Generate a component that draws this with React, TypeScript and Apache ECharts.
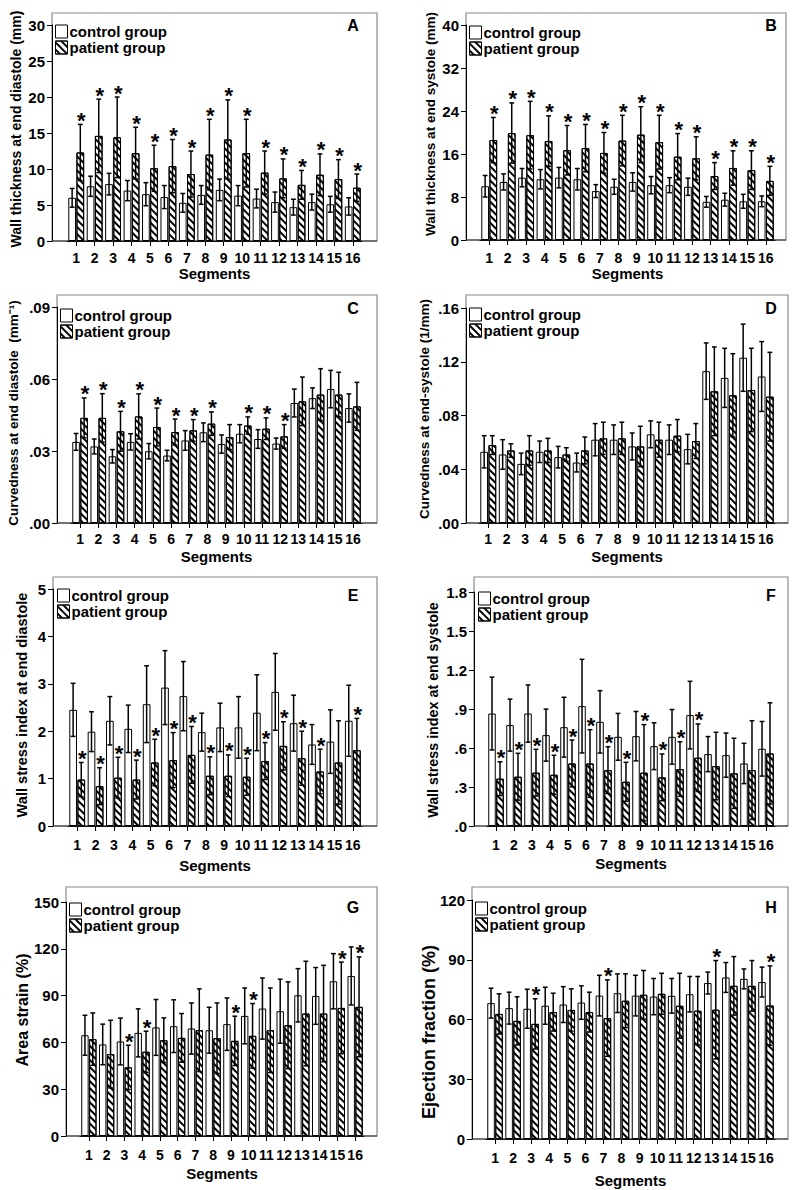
import React, { useEffect, useRef } from 'react';
import * as echarts from 'echarts';

const FONT = '"Liberation Sans", Arial, Helvetica, sans-serif';

const segments = ['1', '2', '3', '4', '5', '6', '7', '8', '9', '10', '11', '12', '13', '14', '15', '16'];
const groupNames = ['control group', 'patient group'];

// A: wall thickness at end diastole (mm)
const aCtrlMean = [6.0, 7.6, 7.9, 7.0, 6.5, 6.1, 5.3, 6.4, 7.1, 6.3, 5.9, 5.4, 4.7, 5.4, 5.1, 4.8];
const aCtrlSd = [1.3, 1.4, 1.5, 1.4, 1.6, 1.6, 1.3, 1.3, 1.5, 1.4, 1.3, 1.4, 1.1, 1.1, 1.1, 1.2];
const aPatMean = [12.3, 14.6, 14.4, 12.2, 10.1, 10.4, 9.3, 12.0, 14.1, 12.2, 9.5, 8.7, 7.8, 9.2, 8.6, 7.4];
const aPatSd = [3.9, 5.1, 5.6, 3.6, 3.2, 3.7, 3.2, 4.9, 5.5, 4.7, 3.0, 2.7, 2.0, 2.9, 2.7, 1.9];
const aStars = [1, 1, 1, 1, 1, 1, 1, 1, 1, 1, 1, 1, 1, 1, 1, 1];

// B: wall thickness at end systole (mm)
const bCtrlMean = [10.0, 10.8, 11.6, 11.3, 11.6, 11.3, 9.1, 9.9, 10.8, 10.2, 10.2, 9.9, 7.1, 7.5, 7.2, 7.2];
const bCtrlSd = [2.0, 1.5, 1.7, 1.8, 1.9, 2.0, 1.2, 1.4, 1.7, 1.6, 1.4, 1.6, 1.0, 1.2, 1.3, 1.0];
const bPatMean = [18.6, 19.9, 19.5, 18.4, 16.7, 17.1, 16.2, 18.5, 19.6, 18.2, 15.5, 15.2, 11.9, 13.4, 13.0, 11.0];
const bPatSd = [4.2, 5.6, 6.3, 4.7, 4.6, 4.4, 3.8, 4.7, 5.2, 5.0, 4.3, 4.0, 2.5, 3.2, 3.6, 2.7];
const bStars = [1, 1, 1, 1, 1, 1, 1, 1, 1, 1, 1, 1, 1, 1, 1, 1];

// C: curvedness at end diastole (mm^-1)
const cCtrlMean = [0.0338, 0.0319, 0.0278, 0.0338, 0.0299, 0.0281, 0.0344, 0.0378, 0.0329, 0.0372, 0.035, 0.0331, 0.05, 0.052, 0.0558, 0.0479];
const cCtrlSd = [0.0035, 0.0031, 0.0028, 0.0034, 0.0032, 0.0022, 0.0041, 0.0039, 0.0038, 0.0038, 0.0039, 0.0023, 0.0058, 0.0043, 0.0078, 0.0059];
const cPatMean = [0.0438, 0.0438, 0.0382, 0.0444, 0.04, 0.0379, 0.0386, 0.0414, 0.0358, 0.0406, 0.0393, 0.0361, 0.0507, 0.0535, 0.0535, 0.0486];
const cPatSd = [0.0083, 0.0101, 0.0083, 0.0094, 0.0079, 0.0054, 0.0045, 0.0049, 0.0052, 0.0036, 0.0045, 0.0049, 0.0101, 0.0108, 0.0093, 0.01];
const cStars = [1, 1, 1, 1, 1, 1, 1, 1, 0, 1, 1, 1, 0, 0, 0, 0];

// D: curvedness at end-systole (1/mm)
const dCtrlMean = [0.053, 0.051, 0.044, 0.053, 0.049, 0.045, 0.062, 0.062, 0.057, 0.066, 0.062, 0.055, 0.113, 0.108, 0.123, 0.109];
const dCtrlSd = [0.012, 0.011, 0.008, 0.008, 0.008, 0.007, 0.012, 0.011, 0.01, 0.01, 0.011, 0.011, 0.021, 0.022, 0.025, 0.026];
const dPatMean = [0.058, 0.054, 0.054, 0.054, 0.051, 0.054, 0.063, 0.063, 0.057, 0.062, 0.065, 0.061, 0.098, 0.095, 0.099, 0.094];
const dPatSd = [0.007, 0.005, 0.011, 0.009, 0.005, 0.01, 0.012, 0.012, 0.015, 0.013, 0.012, 0.013, 0.033, 0.031, 0.031, 0.033];
const dStars = [0, 0, 0, 0, 0, 0, 0, 0, 0, 0, 0, 0, 0, 0, 0, 0];

// E: wall stress index at end diastole
const eCtrlMean = [2.45, 1.99, 2.22, 2.05, 2.57, 2.92, 2.74, 1.98, 2.08, 2.08, 2.39, 2.83, 2.17, 1.72, 1.78, 2.22];
const eCtrlSd = [0.56, 0.42, 0.51, 0.5, 0.81, 0.78, 0.73, 0.4, 0.51, 0.65, 0.8, 0.81, 0.59, 0.42, 0.67, 0.75];
const ePatMean = [0.98, 0.84, 1.02, 0.98, 1.34, 1.39, 1.5, 1.06, 1.06, 1.04, 1.37, 1.69, 1.43, 1.15, 1.34, 1.6];
const ePatSd = [0.36, 0.39, 0.43, 0.41, 0.49, 0.58, 0.6, 0.4, 0.44, 0.39, 0.39, 0.51, 0.57, 0.47, 0.88, 0.67];
const eStars = [1, 1, 1, 1, 1, 1, 1, 1, 1, 1, 1, 1, 1, 1, 0, 1];

// F: wall stress index at end systole
const fCtrlMean = [0.865, 0.776, 0.865, 0.699, 0.76, 0.922, 0.801, 0.686, 0.691, 0.614, 0.686, 0.853, 0.553, 0.545, 0.481, 0.594];
const fCtrlSd = [0.28, 0.2, 0.22, 0.2, 0.23, 0.36, 0.24, 0.18, 0.19, 0.18, 0.21, 0.26, 0.135, 0.17, 0.155, 0.21];
const fPatMean = [0.364, 0.379, 0.41, 0.394, 0.481, 0.481, 0.43, 0.34, 0.41, 0.374, 0.438, 0.525, 0.461, 0.405, 0.43, 0.558];
const fPatSd = [0.13, 0.18, 0.18, 0.15, 0.18, 0.26, 0.18, 0.15, 0.37, 0.18, 0.21, 0.26, 0.26, 0.27, 0.38, 0.39];
const fStars = [1, 1, 1, 1, 1, 1, 1, 1, 1, 1, 1, 1, 0, 0, 0, 0];

// G: area strain (%)
const gCtrlMean = [64.6, 58.7, 60.6, 66.1, 69.6, 70.4, 68.9, 67.8, 71.7, 77.0, 81.7, 80.0, 90.2, 89.8, 99.2, 102.6];
const gCtrlSd = [12.8, 13.0, 15.0, 15.4, 17.9, 16.9, 16.4, 14.7, 16.8, 17.9, 19.6, 20.5, 17.1, 18.2, 17.7, 18.6];
const gPatMean = [62.1, 52.5, 44.0, 54.0, 61.4, 62.9, 67.8, 62.7, 61.0, 64.2, 67.8, 71.0, 78.5, 78.5, 82.1, 82.8];
const gPatSd = [16.8, 21.7, 14.2, 13.2, 14.3, 15.6, 26.5, 22.6, 15.8, 20.7, 27.1, 27.8, 33.5, 30.9, 29.4, 32.0];
const gStars = [0, 0, 1, 1, 0, 0, 0, 0, 1, 1, 0, 0, 0, 0, 1, 1];

// H: ejection fraction (%)
const hCtrlMean = [68.2, 65.7, 65.4, 66.9, 67.5, 68.5, 72.0, 73.2, 72.0, 71.5, 71.9, 72.7, 78.3, 81.1, 80.4, 78.8];
const hCtrlSd = [7.5, 8.0, 9.8, 9.3, 9.0, 8.4, 10.2, 9.7, 10.2, 9.1, 8.7, 8.9, 5.5, 7.5, 5.0, 7.5];
const hPatMean = [62.8, 59.3, 57.8, 63.7, 64.8, 63.7, 60.7, 69.4, 72.4, 72.9, 66.9, 64.4, 64.9, 76.9, 76.9, 67.0];
const hPatSd = [10.1, 12.1, 12.6, 9.5, 10.6, 10.0, 19.2, 13.5, 12.2, 10.3, 16.3, 17.2, 24.7, 14.7, 12.7, 19.9];
const hStars = [0, 0, 1, 0, 0, 0, 1, 0, 0, 0, 0, 0, 1, 0, 0, 1];

const fmtInt = (v: number) => String(v);
const fmt2 = (v: number) => v.toFixed(2).replace(/^0/, '');
const fmt1 = (v: number) => v.toFixed(1).replace(/^0/, '');

// layout (pixels) kept apart from the data
const panels = [
  { letter: 'A', title: 'Wall thickness at end diastole (mm)', ctrl: [aCtrlMean, aCtrlSd], pat: [aPatMean, aPatSd], stars: aStars, yMax: 30, yInt: 5, fmt: fmtInt,
    frame: [52, 13, 377, 241], grid: [67, 295, 25], legend: [55, 24], letterPos: [353, 25], titlePos: [16, 129], titleSize: 14, nameGap: 32, labelMargin: 10 },
  { letter: 'B', title: 'Wall thickness at end systole (mm)', ctrl: [bCtrlMean, bCtrlSd], pat: [bPatMean, bPatSd], stars: bStars, yMax: 40, yInt: 8, fmt: fmtInt,
    frame: [466, 13, 786, 240], grid: [480, 295, 25], legend: [469, 25], letterPos: [771, 25], titlePos: [430, 124], titleSize: 13.5, nameGap: 33, labelMargin: 11 },
  { letter: 'C', title: 'Curvedness at end diastole  (mm\u207B\u00B9)', ctrl: [cCtrlMean, cCtrlSd], pat: [cPatMean, cPatSd], stars: cStars, yMax: 0.09, yInt: 0.03, fmt: fmt2,
    frame: [57, 295, 377, 523], grid: [71, 291, 307], legend: [60, 308], letterPos: [353, 308], titlePos: [13, 413], titleSize: 13.5, nameGap: 33, labelMargin: 9 },
  { letter: 'D', title: 'Curvedness at end-systole (1/mm)', ctrl: [dCtrlMean, dCtrlSd], pat: [dPatMean, dPatSd], stars: dStars, yMax: 0.16, yInt: 0.04, fmt: fmt2,
    frame: [466, 295, 788, 523], grid: [479, 296, 308], legend: [469, 307], letterPos: [771, 308], titlePos: [424, 409], titleSize: 13.5, nameGap: 33, labelMargin: 9 },
  { letter: 'E', title: 'Wall stress index at end diastole', ctrl: [eCtrlMean, eCtrlSd], pat: [ePatMean, ePatSd], stars: eStars, yMax: 5, yInt: 1, fmt: fmtInt,
    frame: [53, 577, 377, 826], grid: [68, 294, 589], legend: [57, 588], letterPos: [353, 595], titlePos: [22, 705], titleSize: 14.6, nameGap: 39, labelMargin: 12 },
  { letter: 'F', title: 'Wall stress index at end systole', ctrl: [fCtrlMean, fCtrlSd], pat: [fPatMean, fPatSd], stars: fStars, yMax: 1.8, yInt: 0.3, fmt: fmt1,
    frame: [474, 577, 788, 826], grid: [487, 288, 592], legend: [478, 591], letterPos: [771, 595], titlePos: [433, 710], titleSize: 14.3, nameGap: 37, labelMargin: 12 },
  { letter: 'G', title: 'Area strain (%)', ctrl: [gCtrlMean, gCtrlSd], pat: [gPatMean, gPatSd], stars: gStars, yMax: 150, yInt: 30, fmt: fmtInt,
    frame: [66, 887, 377, 1136], grid: [80, 284, 902], legend: [69, 902], letterPos: [353, 907], titlePos: [22, 1010], titleSize: 16, nameGap: 37, labelMargin: 12 },
  { letter: 'H', title: 'Ejection fraction (%)', ctrl: [hCtrlMean, hCtrlSd], pat: [hPatMean, hPatSd], stars: hStars, yMax: 120, yInt: 30, fmt: fmtInt,
    frame: [472, 887, 788, 1139], grid: [486, 289, 900], legend: [475, 901], letterPos: [771, 907], titlePos: [429, 1032], titleSize: 18, nameGap: 41, labelMargin: 12 },
];

const CAT_GAP = 0.14;
const BAR_GAP = 0.06;

const HATCH = {
  symbol: 'rect',
  symbolSize: 1,
  dashArrayX: [1, 0],
  dashArrayY: [1.6, 2.4],
  rotation: Math.PI / 4,
  color: '#000',
  backgroundColor: '#fff',
};

function errorSeries(gi: number, side: number, mean: number[], sd: number[], stars: number[] | null) {
  return {
    type: 'custom',
    name: 'err-' + gi + '-' + side,
    xAxisIndex: gi,
    yAxisIndex: gi,
    z: 5,
    silent: true,
    clip: false,
    encode: { x: 0, y: 1 },
    data: mean.map((m, i) => [i, m, sd[i], stars ? stars[i] : 0]),
    renderItem: (params: any, api: any) => {
      const idx = api.value(0);
      const m = api.value(1);
      const s = api.value(2);
      const star = api.value(3);
      const band = api.size([1, 0])[0];
      const bw = (band * (1 - CAT_GAP)) / (2 + BAR_GAP);
      const cx = api.coord([idx, m])[0] + (side * bw * (1 + BAR_GAP)) / 2;
      const yT = api.coord([idx, m + s])[1];
      const yB = api.coord([idx, m - s])[1];
      const st = { stroke: '#000', lineWidth: 1.5 };
      const cap = 2.4;
      const children: any[] = [
        { type: 'line', shape: { x1: cx, y1: yT, x2: cx, y2: yB }, style: st },
        { type: 'line', shape: { x1: cx - cap, y1: yT, x2: cx + cap, y2: yT }, style: st },
        { type: 'line', shape: { x1: cx - cap, y1: yB, x2: cx + cap, y2: yB }, style: st },
      ];
      if (star) {
        children.push({
          type: 'text',
          x: cx + 1,
          y: yT - 4,
          style: { text: '*', fontSize: 22, fontWeight: 'bold', fontFamily: FONT, fill: '#000', align: 'center', verticalAlign: 'middle' },
        });
      }
      return { type: 'group', children };
    },
  };
}

function buildOption() {
  const grid: any[] = [];
  const xAxis: any[] = [];
  const yAxis: any[] = [];
  const series: any[] = [];
  const legend: any[] = [];
  const graphic: any[] = [];

  panels.forEach((p, gi) => {
    const [fl, ft, fr, fb] = p.frame;
    const [gl, gw, gt] = p.grid;
    grid.push({ left: gl, top: gt, width: gw, height: fb - gt, containLabel: false });
    xAxis.push({
      type: 'category',
      gridIndex: gi,
      data: segments,
      name: 'Segments',
      nameLocation: 'middle',
      nameGap: p.nameGap,
      nameTextStyle: { fontSize: 15, fontWeight: 'bold', color: '#000', fontFamily: FONT, verticalAlign: 'middle' },
      axisLine: { show: true, lineStyle: { color: '#000', width: 1 } },
      axisTick: { show: true, alignWithLabel: true, length: 5, lineStyle: { color: '#000' } },
      axisLabel: { interval: 0, fontSize: 14, fontWeight: 'bold', color: '#000', fontFamily: FONT, margin: p.labelMargin },
      splitLine: { show: false },
    });
    yAxis.push({
      type: 'value',
      gridIndex: gi,
      min: 0,
      max: p.yMax,
      interval: p.yInt,
      offset: gl - fl,
      axisLine: { show: true, lineStyle: { color: '#000', width: 1 } },
      axisTick: { show: true, length: 5, lineStyle: { color: '#000' } },
      axisLabel: { fontSize: 15, fontWeight: 'bold', color: '#000', fontFamily: FONT, margin: 7, formatter: p.fmt },
      splitLine: { show: false },
    });
    series.push({
      type: 'bar',
      name: groupNames[0],
      xAxisIndex: gi,
      yAxisIndex: gi,
      data: p.ctrl[0],
      barCategoryGap: (CAT_GAP * 100) + '%',
      barGap: (BAR_GAP * 100) + '%',
      itemStyle: { color: '#fff', borderColor: '#000', borderWidth: 1 },
      silent: true,
    });
    series.push({
      type: 'bar',
      name: groupNames[1],
      xAxisIndex: gi,
      yAxisIndex: gi,
      data: p.pat[0],
      barCategoryGap: (CAT_GAP * 100) + '%',
      barGap: (BAR_GAP * 100) + '%',
      itemStyle: { color: '#fff', borderColor: '#000', borderWidth: 1, decal: HATCH },
      silent: true,
    });
    series.push(errorSeries(gi, -1, p.ctrl[0], p.ctrl[1], null));
    series.push(errorSeries(gi, 1, p.pat[0], p.pat[1], p.stars));

    legend.push({
      orient: 'vertical',
      left: p.legend[0],
      top: p.legend[1],
      itemWidth: 12,
      itemHeight: 13,
      itemGap: 1,
      padding: 0,
      selectedMode: false,
      icon: 'rect',
      data: groupNames,
      itemStyle: { borderColor: '#000', borderWidth: 1 },
      textStyle: { fontSize: 15, fontWeight: 'bold', color: '#000', fontFamily: FONT, lineHeight: 15, padding: [0, 0, 0, -3] },
    });

    graphic.push({
      type: 'rect',
      silent: true,
      shape: { x: fl, y: ft, width: fr - fl, height: fb - ft },
      style: { fill: 'none', stroke: '#8a8a8a', lineWidth: 1.2 },
      z: 0,
    });
    graphic.push({
      type: 'line',
      silent: true,
      shape: { x1: fl, y1: fb, x2: fr, y2: fb },
      style: { stroke: '#222', lineWidth: 1.2 },
      z: 1,
    });
    graphic.push({
      type: 'text',
      silent: true,
      x: p.letterPos[0],
      y: p.letterPos[1],
      style: { text: p.letter, fontSize: 16, fontWeight: 'bold', fontFamily: FONT, fill: '#000', align: 'center', verticalAlign: 'middle' },
    });
    graphic.push({
      type: 'text',
      silent: true,
      x: p.titlePos[0],
      y: p.titlePos[1],
      rotation: Math.PI / 2,
      style: { text: p.title, fontSize: p.titleSize, fontWeight: 'bold', fontFamily: FONT, fill: '#000', align: 'center', verticalAlign: 'middle' },
    });
  });

  return {
    animation: false,
    backgroundColor: '#fff',
    textStyle: { fontFamily: FONT },
    grid,
    xAxis,
    yAxis,
    series,
    legend,
    graphic,
  };
}

export default function App() {
  const ref = useRef<HTMLDivElement>(null);
  useEffect(() => {
    if (!ref.current) return;
    const chart = echarts.init(ref.current, null, { renderer: 'svg' });
    chart.setOption(buildOption() as any);
    return () => {
      chart.dispose();
    };
  }, []);
  return (
    <div
      ref={ref}
      style={{ position: 'absolute', left: 0, top: 0, width: 792, height: 1190, background: '#fff' }}
    />
  );
}
